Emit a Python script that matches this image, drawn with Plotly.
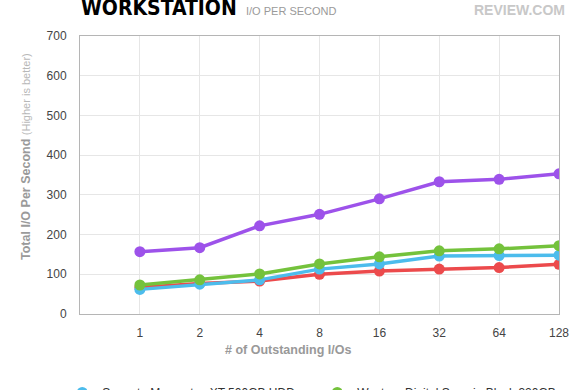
import plotly.graph_objects as go

categories = ["1", "2", "4", "8", "16", "32", "64", "128"]
seagate = [62, 75, 86, 113, 126, 146, 147, 148]
wd_black = [73, 86, 101, 126, 144, 159, 164, 172]
red_drive = [67, 77, 83, 100, 108, 113, 117, 125]
purple_drive = [157, 167, 222, 251, 290, 333, 339, 353]
y_ticks = [0, 100, 200, 300, 400, 500, 600, 700]

series = [
    ("Seagate Momentus XT 500GB HDD", seagate, "#4cbcec", True),
    ("Western Digital Scorpio Black 320GB", wd_black, "#74c23c", True),
    ("Hitachi Travelstar 7K500", red_drive, "#ec4a4c", False),
    ("Momentus XT SSD", purple_drive, "#9d52ea", False),
]

xpos = list(range(1, len(categories) + 1))
fig = go.Figure()
# draw order: red, blue, green, purple
order = [2, 0, 1, 3]
for i in order:
    name, vals, col, _ = series[i]
    fig.add_trace(go.Scatter(
        x=xpos, y=vals, mode="lines+markers", name=name,
        line=dict(color=col, width=3.5),
        marker=dict(color=col, size=11),
        showlegend=False,
    ))
for name, vals, col, leg in series:
    if leg:
        fig.add_trace(go.Scatter(
            x=[None], y=[None], mode="markers", name=name,
            marker=dict(color=col, size=11), showlegend=True,
        ))

font = "Liberation Sans, Arial, sans-serif"
fig.update_layout(
    width=580, height=390,
    margin=dict(l=80, r=21, t=36, b=76, autoexpand=False),
    paper_bgcolor="white", plot_bgcolor="white",
    font=dict(family=font, color="#444444", size=12),
    xaxis=dict(
        range=[0, 8], tickvals=xpos, ticktext=categories,
        showgrid=True, gridcolor="#e6e6e6", gridwidth=1,
        showline=True, linecolor="#b5b5b5", linewidth=1, mirror=True,
        zeroline=False, ticks="", ticklabelstandoff=8,
        tickfont=dict(size=12, color="#444444"),
        automargin=False,
    ),
    yaxis=dict(
        range=[0, 700], tickvals=y_ticks,
        showgrid=True, gridcolor="#e6e6e6", gridwidth=1,
        showline=True, linecolor="#b5b5b5", linewidth=1, mirror=True,
        zeroline=False, ticks="", ticklabelstandoff=10,
        tickfont=dict(size=12, color="#444444"),
        automargin=False,
    ),
    legend=dict(
        orientation="h", x=-0.037, xanchor="left", y=-0.23, yanchor="top",
        font=dict(size=12, color="#333333"),
        itemwidth=30,
        entrywidth=210, entrywidthmode="pixels",
    ),
    showlegend=True,
)

fig.add_annotation(
    text="<b>WORKSTATION</b>", xref="paper", yref="paper",
    x=-0.002, y=(314 - 8) / 278, xanchor="left", yanchor="middle", showarrow=False,
    font=dict(family="DejaVu Sans Condensed, DejaVu Sans, sans-serif", size=21, color="#000000"),
)
fig.add_annotation(
    text="I/O PER SECOND", xref="paper", yref="paper",
    x=(244 - 80) / 479, y=(314 - 11) / 278, xanchor="left", yanchor="middle", showarrow=False,
    font=dict(family=font, size=11, color="#9a9a9a"),
)
fig.add_annotation(
    text="<b>REVIEW.COM</b>", xref="paper", yref="paper",
    x=(567 - 80) / 479, y=(314 - 10) / 278, xanchor="right", yanchor="middle", showarrow=False,
    font=dict(family=font, size=14, color="#c8c8c8"),
)
fig.add_annotation(
    text="<b>Total I/O Per Second</b> <span style='font-size:11px;color:#b8b8b8'>(Higher is better)</span>",
    xref="paper", yref="paper", textangle=-90,
    x=(26 - 80) / 479, y=(314 - 157) / 278, xanchor="center", yanchor="middle", showarrow=False,
    font=dict(family=font, size=12.5, color="#9a9a9a"),
)
fig.add_annotation(
    text="<b># of Outstanding I/Os</b>", xref="paper", yref="paper",
    x=(288 - 80) / 479, y=(314 - 350) / 278, xanchor="center", yanchor="middle", showarrow=False,
    font=dict(family=font, size=12.5, color="#999999"),
)

fig.write_html("out.html", config={"displayModeBar": False},
               post_script="document.body.style.margin='0px';")
